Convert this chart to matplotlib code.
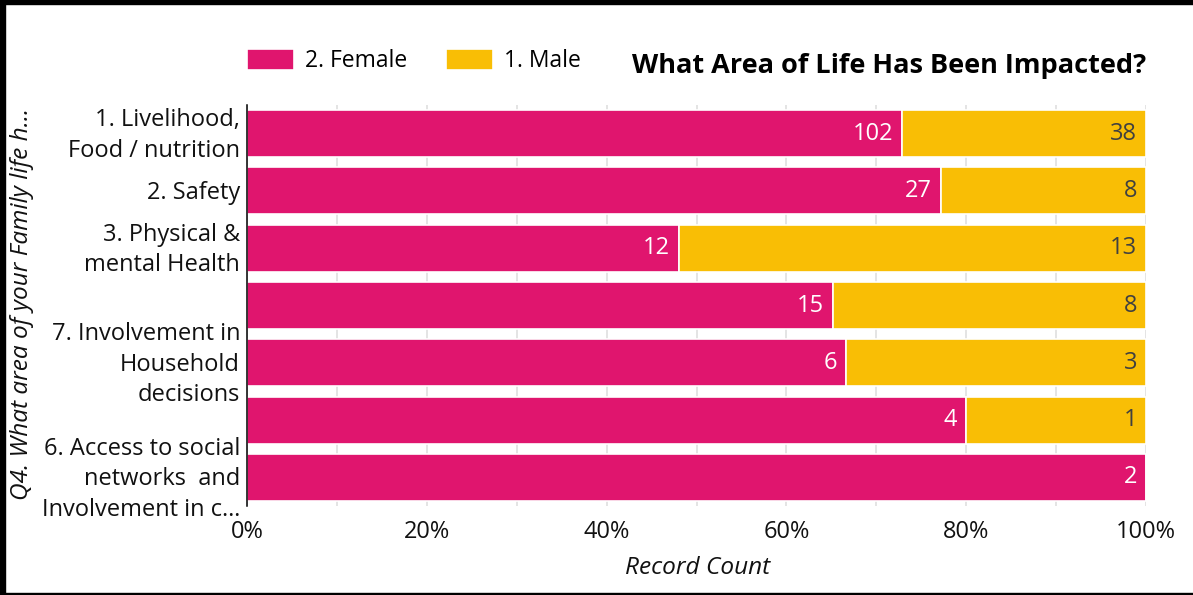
import matplotlib
matplotlib.use("Agg")
import matplotlib.pyplot as plt
import matplotlib.transforms as mtransforms
from matplotlib.patches import Rectangle

plt.rcParams['font.family'] = ['Open Sans', 'DejaVu Sans']

# datos (de arriba hacia abajo)
categorias = [
    "1. Livelihood,\nFood / nutrition",
    "2. Safety",
    "3. Physical &\nmental Health",
    "",
    "7. Involvement in\nHousehold\ndecisions",
    "",
    "6. Access to social\nnetworks  and\nInvolvement in c\u2026",
]
mujeres = [102, 27, 12, 15, 6, 4, 2]
hombres = [38, 8, 13, 8, 3, 1, 0]
ticks_x = [0, 0.1, 0.2, 0.3, 0.4, 0.5, 0.6, 0.7, 0.8, 0.9, 1.0]
etiquetas_x = ["0%", "", "20%", "", "40%", "", "60%", "", "80%", "", "100%"]

color_mujer = '#E0156E'
color_hombre = '#F9BE05'
fs = 17
fs_ley = 16.5
fs_px = fs_ley * 100 / 72

W, H = 1193, 595
fig = plt.figure(figsize=(W / 100, H / 100), dpi=100)
ax = fig.add_axes([247 / W, 1 - 506 / H, (1146 - 247) / W, (506 - 105) / H])

totales = [m + h for m, h in zip(mujeres, hombres)]
prop_m = [m / t for m, t in zip(mujeres, totales)]
prop_h = [h / t for h, t in zip(hombres, totales)]
pos = list(range(len(categorias)))

barras_m = ax.barh(pos, prop_m, height=0.82, color=color_mujer,
                   edgecolor='white', linewidth=1.2, label='2. Female', zorder=2)
barras_h = ax.barh(pos, prop_h, left=prop_m, height=0.82, color=color_hombre,
                   edgecolor='white', linewidth=1.2, label='1. Male', zorder=2)

# etiquetas dentro de las barras
for i in pos:
    ax.annotate(str(mujeres[i]), (prop_m[i], i), xytext=(-9, 0),
                textcoords='offset pixels', ha='right', va='center',
                color='white', fontsize=fs, zorder=3)
    if hombres[i] > 0:
        ax.annotate(str(hombres[i]), (prop_m[i] + prop_h[i], i), xytext=(-9, 0),
                    textcoords='offset pixels', ha='right', va='center',
                    color='#404040', fontsize=fs, zorder=3)

ax.set_ylim(6.5, -0.5)
ax.set_xlim(0, 1)
ax.set_yticks(pos)
ax.set_yticklabels(categorias, fontsize=fs, color='#111111', linespacing=1.36,
                   va='center')
ax.set_xticks(ticks_x)
ax.set_xticklabels(etiquetas_x, fontsize=fs, color='#111111')
ax.tick_params(axis='y', length=0, pad=5)
ax.tick_params(axis='x', length=0, pad=10)
ax.grid(axis='x', color='#DDDDDD', linewidth=1.1, zorder=0)
ax.set_axisbelow(True)
for lado in ['top', 'right', 'bottom']:
    ax.spines[lado].set_visible(False)
ax.spines['left'].set_color('black')
ax.spines['left'].set_linewidth(1.1)
ax.spines['left'].set_zorder(4)

# bajar un poco las etiquetas de categoria
desplazamiento = mtransforms.ScaledTranslation(0, -2 / 100, fig.dpi_scale_trans)
for etiqueta in ax.get_yticklabels():
    etiqueta.set_transform(etiqueta.get_transform() + desplazamiento)

fig.text(698 / W, 1 - 568 / H, 'Record Count', ha='center', va='center',
         fontsize=17.6, style='italic', color='#111111')
fig.text(22 / W, 1 - 304 / H, 'Q4. What area of your Family life h\u2026',
         rotation=90, ha='center', va='center', fontsize=17.6, style='italic',
         color='#111111')
fig.text(1146 / W, 1 - 66 / H, 'What Area of Life Has Been Impacted?',
         ha='right', va='center', fontsize=19.5, fontweight='bold', color='black')

fig.legend(handles=[barras_m, barras_h], labels=['2. Female', '1. Male'],
           loc='center left', bbox_to_anchor=(247 / W, 1 - 61 / H), ncol=2,
           frameon=False, fontsize=fs_ley, handlelength=47 / fs_px,
           handleheight=24 / fs_px, handletextpad=11 / fs_px,
           columnspacing=39 / fs_px, borderpad=0, borderaxespad=0)

# marco negro de la captura
fig.patches.append(Rectangle((0, 1 - 4 / H), 1, 4 / H, color='black',
                             transform=fig.transFigure, figure=fig))
fig.patches.append(Rectangle((0, 0), 5 / W, 1, color='black',
                             transform=fig.transFigure, figure=fig))
fig.patches.append(Rectangle((0, 1 / H), 1, 1.5 / H, color='black',
                             transform=fig.transFigure, figure=fig))

fig.savefig('out.png', dpi=100)
